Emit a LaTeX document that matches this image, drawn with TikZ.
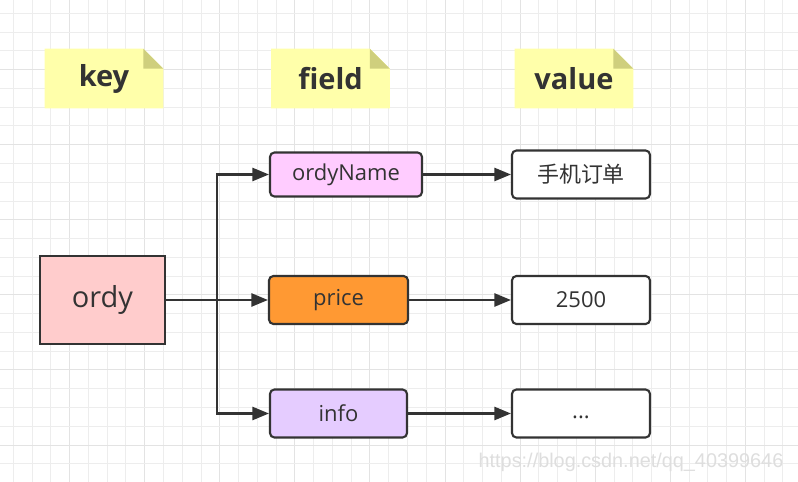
\documentclass[tikz,border=0pt]{standalone}
\usepackage{fontspec}
\setmainfont{Open Sans}
\newfontfamily\cjkfont{Noto Sans CJK SC}
\newfontfamily\wmfont{Liberation Sans}
\usetikzlibrary{arrows.meta}

\definecolor{ink}{HTML}{333333}
\definecolor{notebody}{HTML}{FFFFAA}
\definecolor{notefold}{HTML}{CFCF7D}
\definecolor{keyred}{HTML}{FFCCCC}
\definecolor{namepink}{HTML}{FFCCFF}
\definecolor{priceorange}{HTML}{FF9933}
\definecolor{infolilac}{HTML}{E5CCFF}

\pgfdeclarelayer{background}
\pgfsetlayers{background,main}

\tikzset{
  gridline/.style={draw=black!7,line width=0.5pt},
  gridmajor/.style={draw=black!11,line width=0.5pt},
  notebox/.style={minimum width=2.36cm,minimum height=1.18cm,inner sep=0pt,
    text=ink,font=\fontsize{16.5}{18}\selectfont\bfseries},
  keybox/.style={draw=ink,line width=1.2pt,fill=keyred,minimum width=2.5cm,
    minimum height=1.76cm,text=ink,font=\fontsize{16.5}{18}\selectfont},
  fieldbox/.style={draw=ink,line width=1.2pt,rounded corners=2.5pt,
    minimum height=0.96cm,text=ink,font=\fontsize{12.5}{14}\selectfont},
  valbox/.style={fieldbox,fill=white,minimum width=2.76cm},
  arr/.style={draw=ink,line width=1.3pt,-{Triangle[length=9.5pt,width=7.5pt]}}
}

\begin{document}
\begin{tikzpicture}[x=0.02cm,y=-0.02cm]
    \useasboundingbox (0,0) rectangle (798,482);

    % sticky notes on top
    \node[notebox] (keyLbl)   at (104,78.5) {key};
    \node[notebox] (fieldLbl) at (330.5,78.5) {field};
    \node[notebox] (valueLbl) at (574,78.5) {value};

    % hash key and its fields
    \node[keybox] (ordy) at (102.5,300) {ordy};
    \node[fieldbox,fill=namepink,minimum width=3.04cm,minimum height=0.88cm] (ordyName) at (346,174.5) {ordyName};
    \node[fieldbox,fill=priceorange,minimum width=2.78cm] (price) at (338.5,300) {price};
    \node[fieldbox,fill=infolilac,minimum width=2.74cm] (info) at (338.5,413.5) {info};

    % values
    \node[valbox] (v1) at (581,174.5) {\cjkfont 手机订单};
    \node[valbox] (v2) at (581,300) {2500};
    \node[valbox] (v3) at (581,413.5) {\strut...};

    \node[text=black!13,font=\wmfont\fontsize{11.3}{13}\selectfont] (mark) at (631,462)
      {https://blog.csdn.net/qq\_40399646};

    \coordinate (split) at (217,300);

    \draw[arr] (ordy) -- (price);
    \draw[arr] (split) |- (ordyName);
    \draw[arr] (split) |- (info);
    \foreach \from/\to in {ordyName/v1,price/v2,info/v3}
      \draw[arr] (\from) -- (\to);

    \begin{pgfonlayer}{background}
      \fill[white] (0,0) rectangle (798,482);
      \foreach \i in {0,...,42} {
        \pgfmathtruncatemacro\m{mod(\i,4)}
        \ifnum\m=3 \def\gs{gridmajor}\else\def\gs{gridline}\fi
        \draw[style=\gs] ({13.3+18.77*\i},0) -- ({13.3+18.77*\i},482);
      }
      \foreach \i in {0,...,25} {
        \pgfmathtruncatemacro\m{mod(\i,4)}
        \ifnum\m=3 \def\gs{gridmajor}\else\def\gs{gridline}\fi
        \draw[style=\gs] (0,{13.3+18.77*\i}) -- (798,{13.3+18.77*\i});
      }
      \foreach \n in {keyLbl,fieldLbl,valueLbl} {
        \fill[notebody] (\n.south west) -- (\n.north west) -- ([xshift=-0.4cm]\n.north east)
          -- ([yshift=-0.4cm]\n.north east) -- (\n.south east) -- cycle;
        \fill[notefold] ([xshift=-0.4cm]\n.north east) -- ([xshift=-0.4cm,yshift=-0.4cm]\n.north east)
          -- ([yshift=-0.4cm]\n.north east) -- cycle;
      }
    \end{pgfonlayer}
\end{tikzpicture}
\end{document}
